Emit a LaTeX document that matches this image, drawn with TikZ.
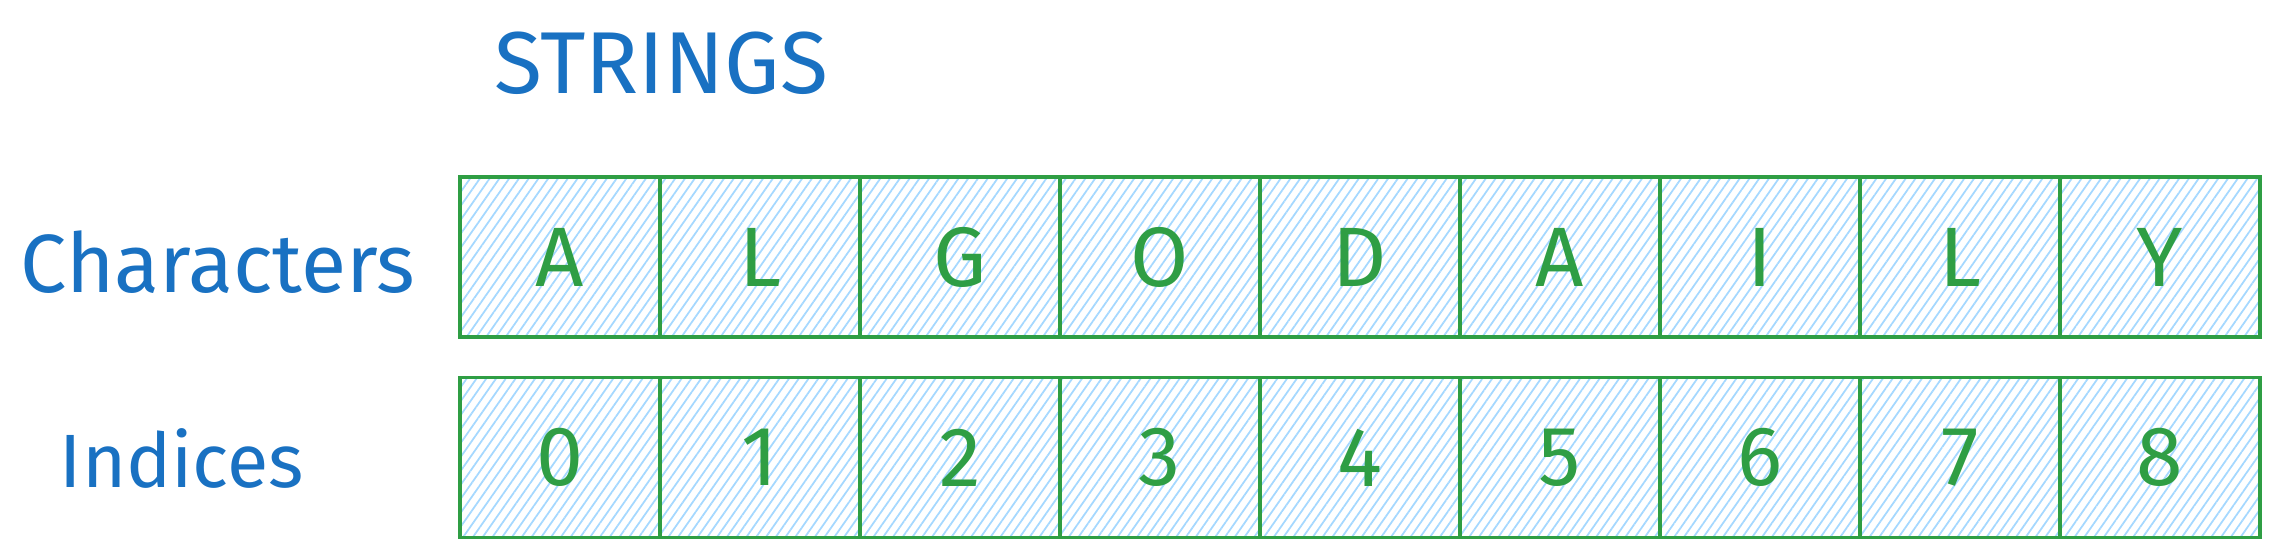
\documentclass[tikz,border=0pt]{standalone}
\usepackage{fontspec}
\setmainfont{Fira Sans}
\usetikzlibrary{patterns.meta}
\definecolor{txtblue}{HTML}{1971C2}
\definecolor{boxgreen}{HTML}{2F9E44}
\definecolor{hatch}{HTML}{A5D8FF}
\tikzset{
  cell/.style={draw=boxgreen, line width=1.1pt, minimum width=20mm, minimum height=16mm,
    inner sep=0pt, outer sep=0pt, text=boxgreen, font=\fontsize{24}{28}\selectfont,
    pattern={Lines[angle=55,distance=0.8mm,line width=0.5pt]}, pattern color=hatch},
  lbl/.style={text=txtblue, inner sep=0pt},
}
\begin{document}
\begin{tikzpicture}[x=0.1mm,y=-0.1mm]
\useasboundingbox (0,0) rectangle (2280,557);
\node[lbl, font=\fontsize{25}{29}\selectfont] (title) at (661,63) {STRINGS};
\node[lbl, font=\fontsize{23.5}{28}\selectfont] (chars) at (218,262) {Characters};
\node[lbl, font=\fontsize{21.5}{25}\selectfont] (idx) at (182,458) {Indices};
\foreach \c [count=\i from 0] in {A,L,G,O,D,A,I,L,Y} {
  \node[cell] (c\i) at (560+200*\i,257) {\c};
  \node[cell] (n\i) at (560+200*\i,457.5) {\i};
}
\end{tikzpicture}
\end{document}
